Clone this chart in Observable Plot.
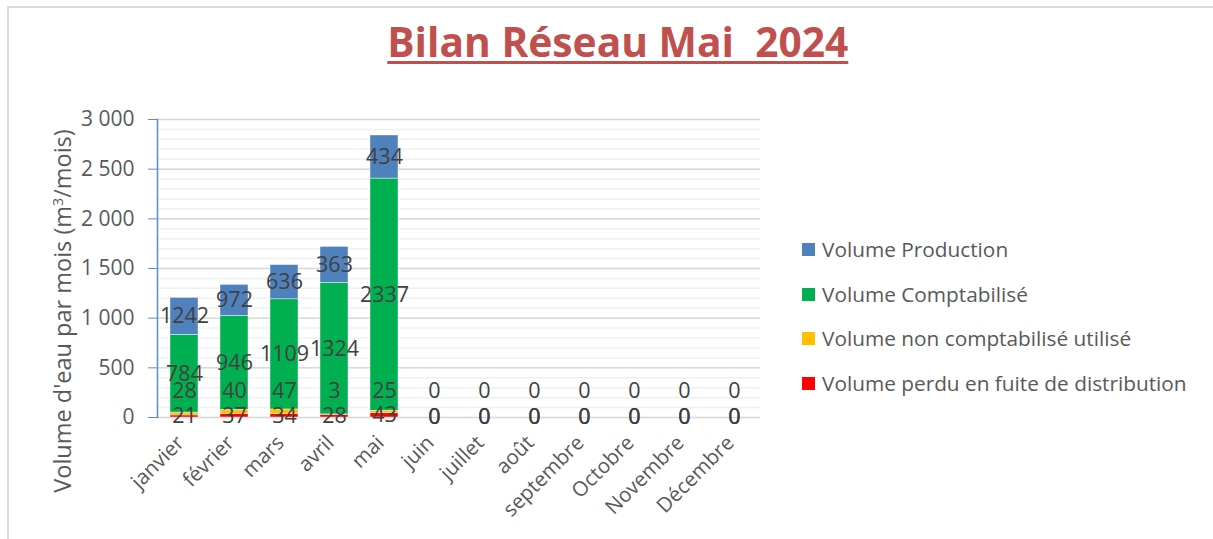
<!DOCTYPE html>
<html>
<head>
<meta charset="utf-8">
<script src="https://cdn.jsdelivr.net/npm/d3@7"></script>
<script src="https://cdn.jsdelivr.net/npm/@observablehq/plot@0.6"></script>
<style>
  body { margin: 0; background: #fff; }
  #wrap { position: relative; width: 1213px; height: 539px; overflow: hidden; font-family: "Open Sans", sans-serif; background: #fff; }
  #border { position: absolute; left: 7px; top: 6px; right: -4px; bottom: -4px; border-top: 2px solid #DADADA; border-left: 2px solid #DADADA; }
  #chart { position: absolute; left: 0; top: 0; }
  #title { position: absolute; top: 12px; left: 11px; width: 1213px; text-align: center; }
  #title span { display: inline-block; font-weight: bold; color: #C0504D; font-size: 42px; text-decoration: underline; text-decoration-thickness: 3px; text-underline-offset: 4px; transform-origin: center; white-space: pre; }
  #ytitle { position: absolute; left: 62px; top: 311px; transform: translate(-50%, -50%) rotate(-90deg); white-space: nowrap; color: #595959; font-size: 23.5px; }
  #legend { position: absolute; left: 802px; top: 237px; }
  .item { height: 44.5px; display: flex; align-items: flex-start; color: #595959; font-size: 20.8px; line-height: 25px; white-space: nowrap; }
  .sw { width: 13px; height: 13px; margin-top: 6px; margin-right: 7px; flex: none; }
</style>
</head>
<body>
<div id="wrap">
  <div id="border"></div>
  <div id="chart"></div>
  <div id="title"><span>Bilan Réseau Mai  2024</span></div>
  <div id="ytitle">Volume d'eau par mois (m<sup style="font-size:0.6em;vertical-align:0.6em;line-height:0">3</sup>/mois)</div>
  <div id="legend"></div>
</div>
<script>
// ---- data ----
const months = ["janvier", "février", "mars", "avril", "mai", "juin", "juillet", "août", "septembre", "Octobre", "Novembre", "Décembre"];
const seriesNames = ["Volume perdu en fuite de distribution", "Volume non comptabilisé utilisé", "Volume Comptabilisé", "Volume Production"];
const seriesColors = ["#FF0000", "#FFC000", "#00B050", "#4F81BD"];
const volumePerdu = [21, 37, 34, 28, 43, 0, 0, 0, 0, 0, 0, 0];
const volumeNonComptabilise = [28, 40, 47, 3, 25, 0, 0, 0, 0, 0, 0, 0];
const volumeComptabilise = [784, 946, 1109, 1324, 2337, 0, 0, 0, 0, 0, 0, 0];
const volumeProduction = [371, 312, 344, 363, 434, 0, 0, 0, 0, 0, 0, 0];       // drawn segment heights
const volumeProductionLabels = [1242, 972, 636, 363, 434, 0, 0, 0, 0, 0, 0, 0]; // printed labels
const yTicks = [0, 500, 1000, 1500, 2000, 2500, 3000];
const yMinorTicks = d3.range(0, 3001, 100);
const yellowLabelLevel = 265;

// ---- table ----
const valuesBySeries = [volumePerdu, volumeNonComptabilise, volumeComptabilise, volumeProduction];
const labelsBySeries = [volumePerdu, null, volumeComptabilise, volumeProductionLabels];
const table = [];
seriesNames.forEach((s, si) => {
  months.forEach((m, mi) => {
    table.push({
      month: m,
      series: s,
      value: valuesBySeries[si][mi],
      label: labelsBySeries[si] ? String(labelsBySeries[si][mi]) : ""
    });
  });
});
const yellowRows = months.map((m, i) => ({month: m, label: String(volumeNonComptabilise[i])}));

const fmt = d3.formatLocale({decimal: ",", thousands: " ", grouping: [3], currency: ["", " €"]}).format(",d");

const chart = Plot.plot({
  width: 1213,
  height: 539,
  marginLeft: 157,
  marginRight: 453,
  marginTop: 119,
  marginBottom: 122,
  style: {fontFamily: "Open Sans, sans-serif", background: "transparent", overflow: "visible"},
  x: {type: "band", domain: months, paddingInner: 0.44, paddingOuter: 0.22, label: null},
  y: {domain: [0, 3000], label: null},
  color: {domain: seriesNames, range: seriesColors},
  marks: [
    Plot.gridY(yMinorTicks, {stroke: "#F0F0F0", strokeOpacity: 1, strokeWidth: 1.5}),
    Plot.gridY(yTicks, {stroke: "#D9D9D9", strokeOpacity: 1, strokeWidth: 1.5}),
    Plot.barY(table, {x: "month", y: "value", fill: "series", z: "series", order: seriesNames, stroke: "#ffffff", strokeWidth: 0.6, strokeOpacity: 0.7}),
    Plot.text(table, Plot.stackY({x: "month", y: "value", z: "series", order: seriesNames, text: "label", fill: "#404040", fontSize: 21.5})),
    Plot.text(yellowRows, {x: "month", y: () => yellowLabelLevel, text: "label", fill: "#404040", fontSize: 21.5}),
    Plot.frame({anchor: "left", stroke: "#5B8BD0", strokeWidth: 1.5}),
    Plot.axisY(yTicks, {tickSize: 9, tickPadding: 14, tickFormat: fmt, stroke: "#5B8BD0", fill: "#595959", fontSize: 21, label: null}),
    Plot.axisX({tickSize: 0, tickPadding: 22, dx: -4, tickRotate: -45, fill: "#595959", fontSize: 20.5, label: null})
  ]
});
document.getElementById("chart").appendChild(chart);

// legend (top to bottom: production first)
const legend = document.getElementById("legend");
[3, 2, 1, 0].forEach(i => {
  const item = document.createElement("div");
  item.className = "item";
  const sw = document.createElement("div");
  sw.className = "sw";
  sw.style.background = seriesColors[i];
  const t = document.createElement("span");
  t.textContent = seriesNames[i];
  item.appendChild(sw);
  item.appendChild(t);
  legend.appendChild(item);
});

// fit title width to reference (~461px)
const ts = document.querySelector("#title span");
const w = ts.getBoundingClientRect().width;
ts.style.transform = `scaleX(${461 / w})`;
</script>
</body>
</html>
